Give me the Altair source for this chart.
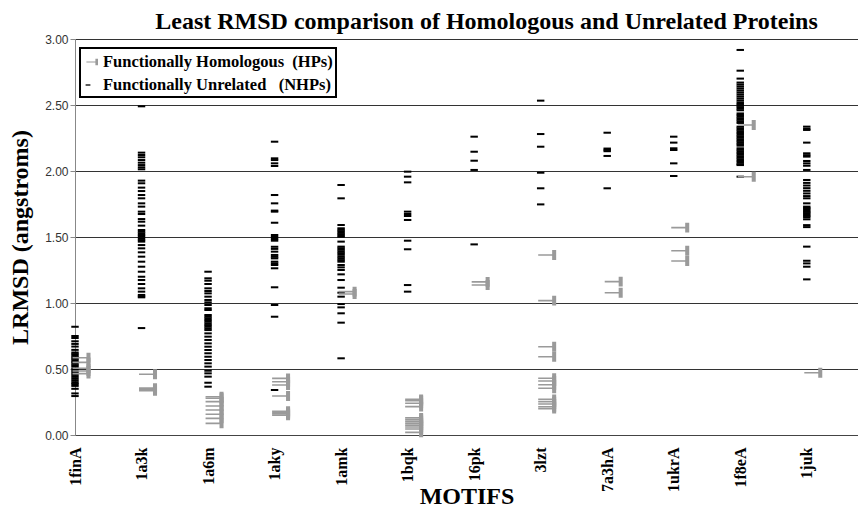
import altair as alt
import pandas as pd

motifs = ["1finA", "1a3k", "1a6m", "1aky", "1amk", "1bqk",
          "16pk", "3lzt", "7a3hA", "1ukrA", "1f8eA", "1juk"]
hp_name = "Functionally Homologous\u00a0 (HPs)"
nhp_name = "Functionally Unrelated\u00a0\u00a0 (NHPs)"

# Functionally unrelated (NHPs) LRMSD values per motif
nhp_1finA = [0.82, 0.75, 0.735, 0.71, 0.69, 0.67, 0.645, 0.625, 0.613, 0.601, 0.589, 0.577,
             0.565, 0.553, 0.541, 0.529, 0.517, 0.50, 0.485, 0.47, 0.455, 0.44, 0.425, 0.41,
             0.395, 0.385, 0.372, 0.35, 0.315, 0.295]
nhp_1a3k = [2.49, 2.139, 2.121, 2.104, 2.083, 2.063, 2.045, 2.028, 2.013, 1.927, 1.907, 1.874,
            1.848, 1.818, 1.793, 1.755, 1.730, 1.692, 1.674, 1.636, 1.616, 1.586, 1.553, 1.540,
            1.528, 1.515, 1.503, 1.490, 1.477, 1.465, 1.439, 1.414, 1.384, 1.351, 1.313, 1.275,
            1.237, 1.199, 1.174, 1.144, 1.111, 1.086, 1.061, 1.050, 1.043, 0.81]
nhp_1a6m = [1.237, 1.187, 1.169, 1.144, 1.111, 1.091, 1.073, 1.048, 1.023, 1.005, 0.985, 0.96,
            0.947, 0.909, 0.896, 0.884, 0.871, 0.859, 0.846, 0.833, 0.821, 0.808, 0.795, 0.770,
            0.745, 0.720, 0.694, 0.669, 0.644, 0.619, 0.593, 0.568, 0.543, 0.518, 0.487, 0.467,
            0.442, 0.396, 0.366]
nhp_1aky = [2.222, 2.096, 2.083, 2.058, 2.038, 1.818, 1.755, 1.70, 1.692, 1.608, 1.515, 1.50,
            1.485, 1.472, 1.426, 1.41, 1.389, 1.364, 1.35, 1.338, 1.313, 1.30, 1.288, 1.263,
            1.119, 0.985, 0.896, 0.341]
nhp_1amk = [1.894, 1.793, 1.591, 1.566, 1.555, 1.544, 1.533, 1.522, 1.511, 1.502, 1.465, 1.427,
            1.415, 1.403, 1.39, 1.378, 1.365, 1.35, 1.338, 1.325, 1.313, 1.288, 1.27, 1.25,
            1.217, 1.174, 1.116, 1.078, 1.048, 0.992, 0.967, 0.922, 0.851, 0.581]
nhp_1bqk = [1.995, 1.957, 1.914, 1.692, 1.674, 1.659, 1.629, 1.472, 1.407, 1.136, 1.086]
nhp_16pk = [2.26, 2.146, 2.078, 2.008, 1.444]
nhp_3lzt = [2.533, 2.28, 2.184, 1.987, 1.869, 1.747]
nhp_7a3hA = [2.29, 2.17, 2.16, 2.15, 2.114, 1.869]
nhp_1ukrA = [2.26, 2.215, 2.172, 2.159, 2.058, 1.962]
nhp_1f8eA = [2.917, 2.76, 2.70, 2.67, 2.655, 2.64, 2.625, 2.61, 2.595, 2.58, 2.565, 2.55,
             2.535, 2.52, 2.508, 2.496, 2.484, 2.472, 2.46, 2.436, 2.424, 2.412, 2.40, 2.388,
             2.376, 2.364, 2.336, 2.324, 2.312, 2.30, 2.288, 2.276, 2.264, 2.252, 2.24, 2.228,
             2.216, 2.204, 2.192, 2.172, 2.16, 2.148, 2.136, 2.124, 2.112, 2.10, 2.088, 2.076,
             2.064, 2.052, 2.045, 1.957]
nhp_1juk = [2.336, 2.32, 2.311, 2.215, 2.134, 2.12, 2.109, 2.076, 2.058, 2.04, 2.008, 1.932,
            1.91, 1.89, 1.87, 1.85, 1.83, 1.81, 1.793, 1.755, 1.73, 1.72, 1.71, 1.70, 1.69,
            1.68, 1.67, 1.66, 1.65, 1.634, 1.59, 1.575, 1.427, 1.32, 1.30, 1.275, 1.179]

# Functionally homologous (HPs) LRMSD values per motif
hp_1finA = [0.585, 0.55, 0.505, 0.485, 0.465]
hp_1a3k = [0.46, 0.355, 0.345, 0.335]
hp_1a6m = [0.29, 0.278, 0.253, 0.22, 0.189, 0.157, 0.126, 0.088]
hp_1aky = [0.429, 0.404, 0.379, 0.295, 0.18, 0.17, 0.16, 0.15]
hp_1amk = [1.086, 1.068]
hp_1bqk = [0.27, 0.26, 0.24, 0.215, 0.13, 0.12, 0.105, 0.09, 0.075, 0.06, 0.045, 0.02]
hp_16pk = [1.16, 1.136]
hp_3lzt = [1.364, 1.018, 0.669, 0.593, 0.43, 0.409, 0.38, 0.354, 0.27, 0.252, 0.235, 0.214, 0.20]
hp_7a3hA = [1.162, 1.078]
hp_1ukrA = [1.571, 1.396, 1.318]
hp_1f8eA = [2.348, 1.957]
hp_1juk = [0.472]

nhp_lists = [nhp_1finA, nhp_1a3k, nhp_1a6m, nhp_1aky, nhp_1amk, nhp_1bqk,
             nhp_16pk, nhp_3lzt, nhp_7a3hA, nhp_1ukrA, nhp_1f8eA, nhp_1juk]
hp_lists = [hp_1finA, hp_1a3k, hp_1a6m, hp_1aky, hp_1amk, hp_1bqk,
            hp_16pk, hp_3lzt, hp_7a3hA, hp_1ukrA, hp_1f8eA, hp_1juk]

rows = []
for i, m in enumerate(motifs):
    for v in nhp_lists[i]:
        rows.append({"idx": i, "motif": m, "series": nhp_name, "lrmsd": v})
for i, m in enumerate(motifs):
    for v in hp_lists[i]:
        rows.append({"idx": i, "motif": m, "series": hp_name, "lrmsd": v})
df = pd.DataFrame(rows)

# marker shapes (style)
HP_PATH = "M-0.16,-0.05H0.74V-0.32H1V0.32H0.74V0.05H-0.16Z"
NHP_PATH = "M-0.24,-0.065H0.24V0.065H-0.24Z"

label_expr = "[" + ",".join("'%s'" % m for m in motifs) + "][datum.value]"
serif = "Liberation Serif"

legend = alt.Legend(title=None, orient="none", legendX=5, legendY=9)

chart = alt.Chart(df).mark_point(filled=True, size=961, opacity=1).encode(
    x=alt.X("idx:Q",
            scale=alt.Scale(domain=[0, 11.77], nice=False, zero=False),
            axis=alt.Axis(values=list(range(12)), labelExpr=label_expr, labelAngle=-90,
                          ticks=False, grid=False, labelPadding=12, labelOverlap=False,
                          labelFont=serif, labelFontWeight="bold", labelFontSize=16,
                          labelColor="black", title="MOTIFS", titleFont=serif,
                          titleFontWeight="bold", titleFontSize=24, titleColor="black",
                          titleY=68, titleBaseline="alphabetic",
                          domainColor="#444", domainWidth=1)),
    y=alt.Y("lrmsd:Q",
            scale=alt.Scale(domain=[0, 3], nice=False),
            axis=alt.Axis(values=[0, 0.5, 1.0, 1.5, 2.0, 2.5, 3.0], format=".2f",
                          grid=True, gridColor="#333", gridWidth=1, gridOpacity=1,
                          domainColor="#888", tickColor="#888", tickSize=5, labelPadding=2,
                          labelFont="Liberation Sans", labelFontSize=12, labelColor="#333",
                          title="LRMSD (angstroms)", titleFont=serif, titleFontWeight="bold",
                          titleFontSize=24, titleColor="black", titlePadding=12)),
    color=alt.Color("series:N",
                    scale=alt.Scale(domain=[hp_name, nhp_name], range=["#9a9a9a", "#000000"]),
                    legend=legend),
    shape=alt.Shape("series:N",
                    scale=alt.Scale(domain=[hp_name, nhp_name], range=[HP_PATH, NHP_PATH]),
                    legend=legend),
).properties(
    width=783,
    height=396,
    title=alt.TitleParams(text="Least RMSD comparison of Homologous and Unrelated Proteins",
                          font=serif, fontSize=24, fontWeight="bold", color="black",
                          anchor="middle", offset=-1, dx=20),
    autosize=alt.AutoSizeParams(type="none"),
    padding={"left": 67, "top": 31, "right": 0, "bottom": 75},
).configure_view(
    strokeWidth=0
).configure_legend(
    strokeColor="black", strokeWidth=2, padding=3, fillColor="white",
    symbolSize=400, symbolOffset=-6, labelOffset=4, rowPadding=3,
    labelFont=serif, labelFontWeight="bold", labelFontSize=16.5, labelColor="black",
    labelLimit=0
)

chart.save("out.html", embed_options={"renderer": "svg", "actions": False})
